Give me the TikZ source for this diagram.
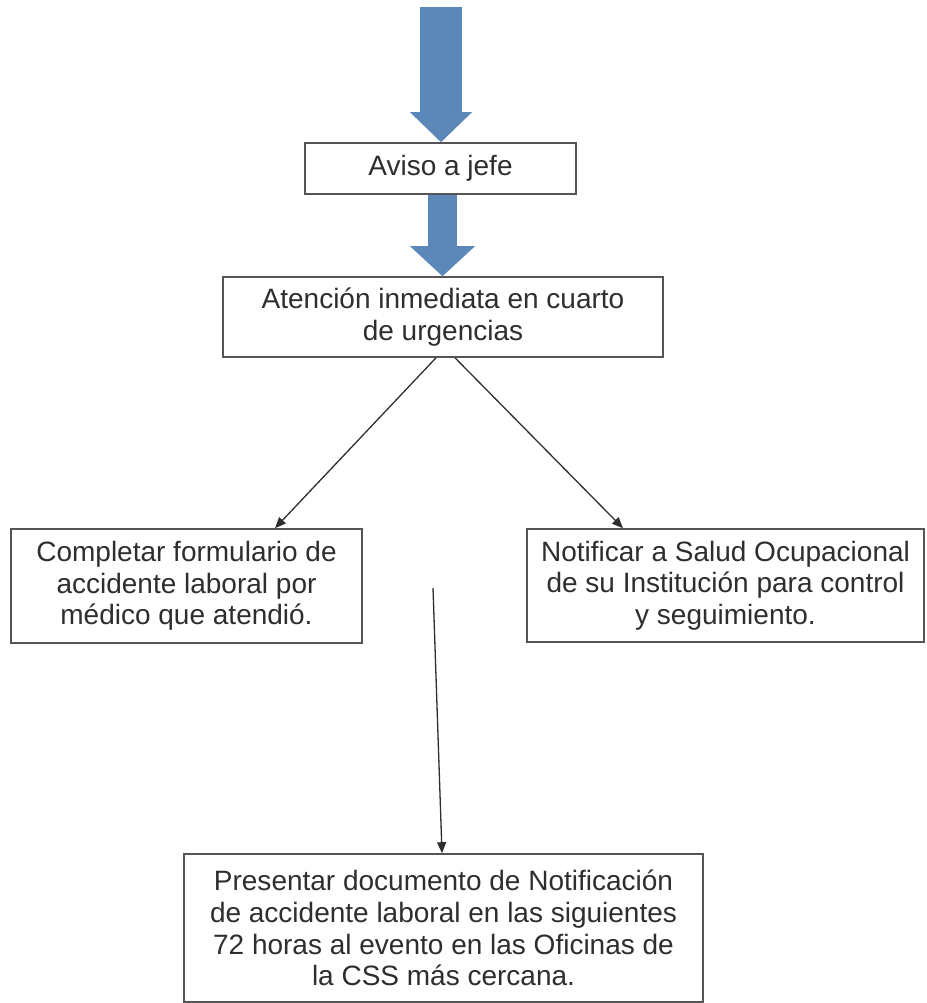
\documentclass[tikz,border=0pt]{standalone}
\usepackage{fontspec}
\setmainfont{Liberation Sans}
\usetikzlibrary{arrows.meta,positioning}
\definecolor{flowblue}{HTML}{5B88B8}
\definecolor{boxgray}{HTML}{555555}
\definecolor{textgray}{HTML}{2E2E2E}

\begin{document}
\begin{tikzpicture}[x=1pt, y=-1pt,
	main node/.style={rectangle,draw=boxgray,line width=1.6pt,fill=white,text=textgray,
		align=center,inner sep=0pt,font=\fontsize{28}{31.7}\selectfont},
	big arrow/.style={draw=flowblue,-{Triangle[width=#1,length=30pt,line width=0pt]}},
	thin arrow/.style={draw=textgray,line width=1.3pt,-{Triangle[length=11pt,width=9pt]}}]
	\useasboundingbox (0,0) rectangle (926,1003);
	
	\node[main node,minimum width=271pt,minimum height=51pt] (aviso) at (440.5,168.5) {Aviso a jefe};
	\node[main node,minimum width=440pt,minimum height=80pt] (atencion) at (443,317)
		{Atención inmediata en cuarto\\de urgencias};
	\node[main node,minimum width=351pt,minimum height=114pt] (formulario) at (186.5,586)
		{Completar formulario de\\accidente laboral por\\médico que atendió.};
	\node[main node,minimum width=397pt,minimum height=113pt] (notificar) at (725.5,585.5)
		{Notificar a Salud Ocupacional\\de su Institución para control\\y seguimiento.};
	\node[main node,minimum width=519pt,minimum height=148pt] (presentar) at (443.5,928)
		{Presentar documento de Notificación\\de accidente laboral en las siguientes\\72 horas al evento en las Oficinas de\\la CSS más cercana.};
	
	\coordinate (inicio) at (441,7);
	\coordinate (tramite) at (433,588);
	
	\draw[big arrow=62pt,line width=42pt] (inicio) -- (inicio |- aviso.north);
	\draw[big arrow=65pt,line width=29pt] ([xshift=2pt]aviso.south) -- ([xshift=2pt]aviso.south |- atencion.north);
	
	\draw[thin arrow] ([xshift=-7pt]atencion.south) -- ([xshift=88.5pt]formulario.north);
	\draw[thin arrow] ([xshift=12pt]atencion.south) -- ([xshift=-102.5pt]notificar.north);
	\draw[thin arrow] (tramite) -- ([xshift=-1.5pt]presentar.north);
\end{tikzpicture}
\end{document}
